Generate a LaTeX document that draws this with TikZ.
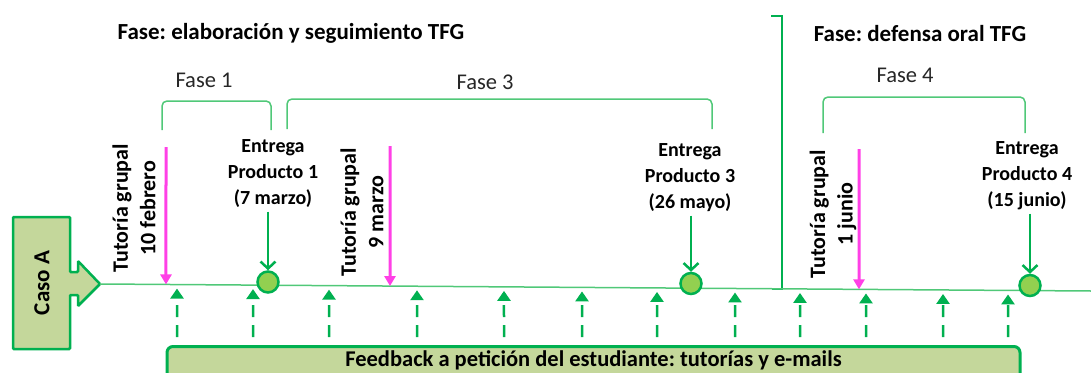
\documentclass[tikz,border=0pt]{standalone}
\usepackage{fontspec}
\setmainfont{Carlito}
\frenchspacing
\usetikzlibrary{positioning, calc, arrows.meta}
\definecolor{verde}{RGB}{0,176,80}
\definecolor{verdeclaro}{RGB}{146,208,80}
\definecolor{verdelinea}{RGB}{80,200,120}
\definecolor{oliva}{RGB}{196,215,155}
\definecolor{rosa}{RGB}{255,64,230}

\begin{document}
\begin{tikzpicture}[x=1pt, y=-1pt,
    titulo/.style={font=\bfseries\fontsize{23}{27}\selectfont},
    fase/.style={font=\fontsize{22.5}{26}\selectfont, text=black!85},
    llave/.style={draw=verdelinea, line width=1.5pt, rounded corners=5pt},
    entrega/.style={font=\bfseries\fontsize{20}{26}\selectfont, align=center},
    tutoria/.style={font=\bfseries\fontsize{22}{27.5}\selectfont, align=center, rotate=90},
    hito/.style={circle, draw=verde, fill=verdeclaro, line width=2.5pt, minimum size=21pt, inner sep=0pt},
    flechaent/.style={draw=verde, line width=2.5pt, -{Straight Barb[length=7pt, width=15pt]}},
    flechatut/.style={draw=rosa, line width=3pt, -{Triangle[length=10pt, width=11pt]}},
    retro/.style={draw=verde, line width=2.5pt, dash pattern=on 12pt off 8pt, dash phase=12pt, -{Triangle[length=10pt, width=13pt]}},
    caja/.style={draw=verde, fill=oliva, line width=3pt, rounded corners=6pt, font=\bfseries\fontsize{22.5}{26}\selectfont}]
    \useasboundingbox (0,0) rectangle (1091,372);
    \clip (0,0) rectangle (1091,372);
    %titulos de las fases
    \node[titulo] (tit1) at (291,33) {Fase: elaboración y seguimiento TFG};
    \node[titulo] (tit2) at (920,34) {Fase: defensa oral TFG};
    %separador
    \draw[verde, line width=2pt] (771,16) -- (782,16) -- (782,289) -- (772,289);
    %llaves
    \draw[llave] (162,130) -- (162,101) -- (271,101) -- (271,130);
    \draw[llave] (287,129) -- (287,99) -- (712,99) -- (712,129);
    \draw[llave] (823,133) -- (823,97) -- (1025,97) -- (1025,133);
    \node[fase] (f1) at (204,80) {Fase 1};
    \node[fase] (f3) at (485,82) {Fase 3};
    \node[fase] (f4) at (905,75) {Fase 4};
    %caso A
    \draw[verde, line width=2.5pt, fill=oliva, rounded corners=1pt] (13,217) -- (70,217) -- (70,272) -- (78,272) -- (78,261)
        -- (100,284) -- (78,306) -- (78,295) -- (70,295) -- (70,349) -- (13,349) -- cycle;
    \node[rotate=90, font=\bfseries\fontsize{23}{27}\selectfont] (caso) at (42,283) {Caso A};
    %linea del tiempo
    \coordinate (t0) at (100,284);
    \coordinate (t1) at (1091,291);
    \draw[verdelinea, line width=1.5pt] (t0) -- (t1);
    %tutorias grupales
    \node[tutoria] (tu1) at (134,208) {Tutoría grupal\\10 febrero};
    \node[tutoria] (tu2) at (362,212) {Tutoría grupal\\9 marzo};
    \node[tutoria] (tu3) at (833,214) {Tutoría grupal\\1 junio};
    \foreach \x/\y [count=\i] in {166/147, 390/146, 859/149}
        {\coordinate (p\i) at (\x,\y);
         \draw[flechatut] (p\i) -- ($(t0)!{(\x-100)/991}!(t1)$);}
    %entregas
    \node[entrega] (e1) at (273,174) {Entrega\\Producto 1\\(7 marzo)};
    \node[entrega] (e2) at (690,178) {Entrega\\Producto 3\\(26 mayo)};
    \node[entrega] (e3) at (1027,176) {Entrega\\Producto 4\\(15 junio)};
    \node[hito] (c1) at (268,282) {};
    \node[hito] (c2) at (691,283.5) {};
    \node[hito] (c3) at (1030,285.5) {};
    \foreach \i in {1,2,3}
        \draw[flechaent] (c\i |- e\i.south) -- (c\i);
    %feedback
    \node[caja, anchor=north, minimum width=853pt, text height=18pt, text depth=30pt, inner ysep=2pt] (fb) at (593.5,345)
        {Feedback a petición del estudiante: tutorías y e-mails};
    \foreach \x in {177,253,329,417,504,582,657,735,800,866,943,1008}
        \draw[retro] (fb.north -| \x,0) -- ($(t0)!{(\x-100)/991}!(t1)+(0,4)$);
\end{tikzpicture}
\end{document}
